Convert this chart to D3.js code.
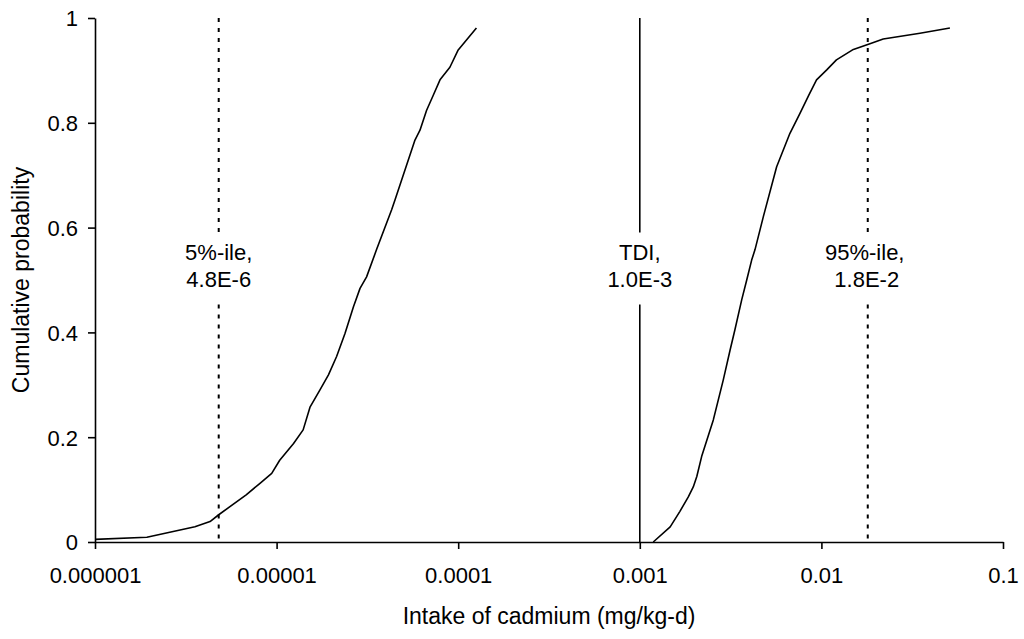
<!DOCTYPE html>
<html>
<head>
<meta charset="utf-8">
<script src="https://cdn.jsdelivr.net/npm/d3@7"></script>
<style>
  html, body { margin: 0; padding: 0; background: #fff; }
  svg text { font-family: "Liberation Sans", Arial, sans-serif; fill: #000; }
</style>
</head>
<body>
<svg id="chart" width="1024" height="639"></svg>
<script>
// Data
const leftIntake = [1e-6, 1.93e-6, 3.55e-6, 4.3e-6, 4.8e-6, 6.8e-6, 8.1e-6, 9.4e-6, 1.04e-5, 1.24e-5, 1.40e-5, 1.53e-5, 1.73e-5, 1.93e-5, 2.14e-5, 2.38e-5, 2.65e-5, 2.88e-5, 3.13e-5, 3.56e-5, 4.3e-5, 4.49e-5, 5.78e-5, 6.16e-5, 6.7e-5, 7.3e-5, 7.94e-5, 9.0e-5, 1.0e-4, 1.26e-4];
const leftProb   = [0.005, 0.009, 0.029, 0.039, 0.052, 0.09, 0.112, 0.131, 0.156, 0.188, 0.214, 0.258, 0.29, 0.319, 0.354, 0.398, 0.449, 0.484, 0.506, 0.559, 0.634, 0.653, 0.767, 0.786, 0.824, 0.853, 0.882, 0.906, 0.939, 0.981];
const rightIntake = [1.186e-3, 1.47e-3, 1.66e-3, 1.85e-3, 1.97e-3, 2.06e-3, 2.19e-3, 2.54e-3, 2.88e-3, 3.14e-3, 3.34e-3, 3.64e-3, 3.88e-3, 4.13e-3, 4.31e-3, 4.79e-3, 5.67e-3, 6.71e-3, 7.62e-3, 8.5e-3, 9.4e-3, 1.07e-2, 1.21e-2, 1.5e-2, 1.85e-2, 2.19e-2, 3.49e-2, 5.1e-2];
const rightProb   = [0, 0.029, 0.058, 0.086, 0.105, 0.125, 0.163, 0.233, 0.309, 0.366, 0.405, 0.462, 0.5, 0.538, 0.558, 0.621, 0.716, 0.78, 0.818, 0.852, 0.882, 0.901, 0.92, 0.94, 0.951, 0.96, 0.971, 0.981];
const xTicks = [1e-6, 1e-5, 1e-4, 1e-3, 1e-2, 1e-1];
const xTickLabels = ["0.000001", "0.00001", "0.0001", "0.001", "0.01", "0.1"];
const yTicks = [0, 0.2, 0.4, 0.6, 0.8, 1];
const yTickLabels = ["0", "0.2", "0.4", "0.6", "0.8", "1"];
const refValues = [4.8e-6, 1.0e-3, 1.8e-2];
const refLine1 = ["5%-ile,", "TDI,", "95%-ile,"];
const refLine2 = ["4.8E-6", "1.0E-3", "1.8E-2"];
const refDashed = [true, false, true];
const xTitle = "Intake of cadmium (mg/kg-d)";
const yTitle = "Cumulative probability";

const svg = d3.select("#chart");
const m = {left: 95, right: 1024 - 1003, top: 18, bottom: 639 - 542};
const W = 1024, H = 639;
const x = d3.scaleLog().domain([1e-6, 0.1]).range([m.left, W - m.right]);
const y = d3.scaleLinear().domain([0, 1]).range([H - m.bottom, m.top]);
const FS = 22, TFS = 23;

// Reference lines (with gaps for labels)
const gapTop = y(0.6) + 5, gapBottom = y(0.6) + 77;
refValues.forEach((v, i) => {
  const g = svg.append("g");
  [[y(1), gapTop], [gapBottom, y(0)]].forEach(([a, b]) => {
    g.append("line")
      .attr("x1", x(v)).attr("x2", x(v))
      .attr("y1", a).attr("y2", b)
      .attr("stroke", "#000")
      .attr("stroke-width", refDashed[i] ? 2 : 1.6)
      .attr("stroke-dasharray", refDashed[i] ? "4,6" : null);
  });
  const t = svg.append("text")
    .attr("text-anchor", "middle")
    .attr("font-size", FS);
  t.append("tspan").attr("x", x(v) - (i === 2 ? 3 : 0)).attr("y", 260).text(refLine1[i]);
  t.append("tspan").attr("x", x(v) - (i === 2 ? 1 : 0)).attr("y", 287).text(refLine2[i]);
});

// Curves
const line = d3.line().x(d => x(d[0])).y(d => y(d[1]));
[[leftIntake, leftProb], [rightIntake, rightProb]].forEach(([xs, ps]) => {
  svg.append("path")
    .datum(xs.map((v, i) => [v, ps[i]]))
    .attr("d", line)
    .attr("fill", "none")
    .attr("stroke", "#000")
    .attr("stroke-width", 1.6)
    .attr("stroke-linejoin", "round");
});

// X axis
const xAxis = svg.append("g")
  .attr("transform", `translate(0,${y(0)})`)
  .call(d3.axisBottom(x).tickValues(xTicks).tickFormat((d, i) => xTickLabels[i]).tickSize(7).tickSizeOuter(0));
xAxis.select(".domain").attr("stroke-width", 1.6);
xAxis.selectAll(".tick line").attr("stroke-width", 1.6);
xAxis.selectAll(".tick text").attr("font-size", FS).attr("font-family", "Liberation Sans, Arial, sans-serif").attr("dy", null).attr("y", 41);

// Y axis
const yAxis = svg.append("g")
  .attr("transform", `translate(${x(1e-6)},0)`)
  .call(d3.axisLeft(y).tickValues(yTicks).tickFormat((d, i) => yTickLabels[i]).tickSize(7).tickSizeOuter(0));
yAxis.select(".domain").attr("stroke-width", 1.6);
yAxis.selectAll(".tick line").attr("stroke-width", 1.6);
yAxis.selectAll(".tick text").attr("font-size", FS).attr("font-family", "Liberation Sans, Arial, sans-serif").attr("x", -17).attr("dy", "0.36em");

// Titles
svg.append("text")
  .attr("x", (x(1e-6) + x(0.1)) / 2).attr("y", 624)
  .attr("text-anchor", "middle").attr("font-size", TFS)
  .text(xTitle);
svg.append("text")
  .attr("transform", `translate(29,${(y(0) + y(1)) / 2}) rotate(-90)`)
  .attr("text-anchor", "middle").attr("font-size", TFS)
  .text(yTitle);
</script>
</body>
</html>
